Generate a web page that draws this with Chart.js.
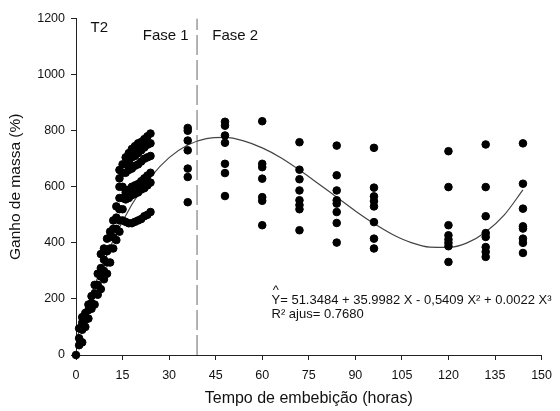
<!DOCTYPE html>
<html>
<head>
<meta charset="utf-8">
<script src="https://cdn.jsdelivr.net/npm/chart.js@4.4.1/dist/chart.umd.min.js"></script>
<style>
  html, body { margin: 0; padding: 0; background: #fff; }
  #grafico { display: block; }
</style>
</head>
<body>
<canvas id="grafico" width="560" height="411"></canvas>
<script>
// horas de embebição (colunas de pontos) e ganho de massa (%) lido em cada uma
const horas = [0, 1, 2, 3, 4, 5, 6, 7, 8, 9, 10, 11, 12, 13, 14, 15, 16, 17, 18, 19, 20, 21, 22, 23, 24,
  36, 48, 60, 72, 84, 96, 120, 132, 144];
const ganho = [
  [0],
  [35, 60, 95],
  [45, 90, 115, 135],
  [100, 125, 150],
  [130, 160, 180],
  [165, 185, 210],
  [180, 220, 250],
  [215, 250, 290],
  [235, 280, 310, 360],
  [270, 300, 340, 380],
  [290, 330, 370, 415],
  [330, 380, 420, 440],
  [380, 420, 450, 480],
  [410, 450, 490, 530],
  [440, 480, 520, 560, 600, 630, 660],
  [480, 520, 560, 600, 650, 680],
  [475, 555, 580, 650, 680, 705],
  [470, 560, 590, 660, 690, 720],
  [470, 570, 600, 665, 705, 735],
  [475, 575, 605, 675, 710, 745],
  [480, 580, 610, 680, 720, 755],
  [485, 590, 620, 690, 730, 760],
  [495, 595, 630, 700, 740, 770],
  [500, 605, 640, 705, 750, 780],
  [510, 615, 650, 710, 755, 790],
  [545, 635, 665, 730, 765, 800, 810],
  [567, 649, 682, 757, 783, 818, 832],
  [463, 550, 563, 629, 670, 682, 834],
  [445, 520, 535, 552, 587, 627, 661, 759],
  [401, 471, 510, 540, 552, 587, 641, 747],
  [380, 415, 474, 530, 549, 566, 597, 739],
  [332, 388, 400, 412, 427, 463, 599, 727],
  [350, 368, 385, 421, 435, 495, 599, 751],
  [364, 400, 415, 451, 459, 522, 611, 755]
];

// curva ajustada
const curvaHoras = [0, 6, 12, 18, 24, 30, 36, 42, 48, 54, 60, 66, 72, 78, 84, 90, 96, 102, 108, 114, 120, 126, 132, 138, 144];
const curvaGanho = [51, 248, 409, 537, 634, 704, 749, 772, 776, 764, 739, 704, 660, 612, 563, 514, 469, 430, 401, 385, 384, 400, 439, 500, 589];

// limite entre as fases
const limiteFase = 39;

const xTicks = [0, 15, 30, 45, 60, 75, 90, 105, 120, 135, 150];
const yTicks = [0, 200, 400, 600, 800, 1000, 1200];

const fonte = '"Liberation Sans", Arial, sans-serif';

const pontos = [];
horas.forEach((h, i) => {
  ganho[i].forEach(v => pontos.push({ x: h, y: v }));
});
const curva = curvaHoras.map((h, i) => ({ x: h, y: curvaGanho[i] }));

const notas = {
  id: 'notas',
  afterDatasetsDraw(chart) {
    const { ctx, scales: { x, y } } = chart;
    ctx.save();
    ctx.fillStyle = '#111';
    ctx.textBaseline = 'middle';

    ctx.font = '15px ' + fonte;
    ctx.textAlign = 'left';
    ctx.fillText('T2', x.getPixelForValue(4.7), y.getPixelForValue(1168));
    ctx.textAlign = 'right';
    ctx.fillText('Fase 1', x.getPixelForValue(36.3), y.getPixelForValue(1137));
    ctx.textAlign = 'left';
    ctx.fillText('Fase 2', x.getPixelForValue(43.9), y.getPixelForValue(1137));

    ctx.font = '13px ' + fonte;
    const ex = x.getPixelForValue(63);
    const ey = y.getPixelForValue(194);
    ctx.fillText('Y= 51.3484 + 35.9982 X - 0,5409 X\u00b2 + 0.0022 X\u00b3', ex, ey);
    ctx.fillText('R\u00b2 ajus= 0.7680', ex, ey + 14);
    const wY = ctx.measureText('Y').width;
    ctx.textAlign = 'center';
    ctx.fillText('^', ex + wY / 2, ey - 10);
    ctx.restore();
  }
};

new Chart(document.getElementById('grafico'), {
  type: 'scatter',
  data: {
    datasets: [
      {
        data: pontos,
        backgroundColor: '#000',
        borderColor: '#000',
        pointRadius: 3.8,
        pointHoverRadius: 3.8,
        clip: false
      },
      {
        data: curva,
        showLine: true,
        borderColor: '#444',
        borderWidth: 1.2,
        pointRadius: 0,
        cubicInterpolationMode: 'monotone'
      },
      {
        data: [{ x: limiteFase, y: 0 }, { x: limiteFase, y: 1200 }],
        showLine: true,
        borderColor: '#9a9a9a',
        borderWidth: 1.5,
        borderDash: [20, 5],
        pointRadius: 0
      }
    ]
  },
  options: {
    responsive: false,
    animation: false,
    layout: { padding: { top: 18.6, right: 13, left: 0, bottom: 0 } },
    plugins: { legend: { display: false }, tooltip: { enabled: false } },
    scales: {
      x: {
        type: 'linear',
        min: 0,
        max: 150,
        afterBuildTicks: s => { s.ticks = xTicks.map(v => ({ value: v })); },
        afterFit: s => { s.height = 56; },
        ticks: { color: '#111', padding: 8, font: { family: fonte, size: 12.5 }, callback: v => String(v) },
        grid: { drawOnChartArea: false, drawTicks: true, tickLength: 5, color: '#222' },
        border: { color: '#222', width: 1 },
        title: {
          display: true,
          text: 'Tempo de embebição (horas)',
          color: '#111',
          font: { family: fonte, size: 16 },
          padding: { top: 0, bottom: 3 }
        }
      },
      y: {
        min: 0,
        max: 1200,
        afterBuildTicks: s => { s.ticks = yTicks.map(v => ({ value: v })); },
        afterFit: s => { s.width = 76; },
        ticks: { color: '#111', padding: 6, font: { family: fonte, size: 12.5 }, callback: v => String(v) },
        grid: { drawOnChartArea: false, drawTicks: true, tickLength: 5, color: '#222' },
        border: { color: '#222', width: 1 },
        title: {
          display: true,
          text: 'Ganho de massa (%)',
          color: '#111',
          font: { family: fonte, size: 15.5 },
          padding: { top: 6, bottom: 0 }
        }
      }
    }
  },
  plugins: [notas]
});
</script>
</body>
</html>
